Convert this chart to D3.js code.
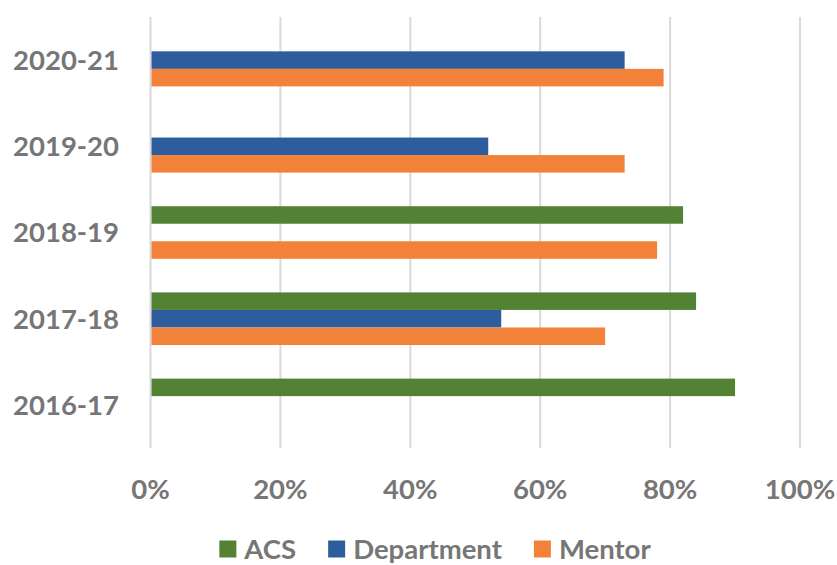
<!DOCTYPE html>
<html>
<head>
<meta charset="utf-8">
<script src="https://cdn.jsdelivr.net/npm/d3@7"></script>
<style>
  body { margin: 0; background: #fff; }
  text { font-family: Lato, "Open Sans", sans-serif; font-weight: bold; fill: #767676; }
</style>
</head>
<body>
<div id="chart"></div>
<script>
// Data (fractions of 100%)
const years = ["2020-21", "2019-20", "2018-19", "2017-18", "2016-17"];
const series = ["ACS", "Department", "Mentor"];
const acs        = [null, null, 0.82, 0.84, 0.90];
const department = [0.73, 0.52, null, 0.54, null];
const mentor     = [0.79, 0.73, 0.78, 0.70, null];
const ticks = [0, 0.2, 0.4, 0.6, 0.8, 1.0];
const colors = { ACS: "#548235", Department: "#2E5D9E", Mentor: "#F2823A" };

const valuesBySeries = { ACS: acs, Department: department, Mentor: mentor };

const width = 837;
const height = 565;
const margin = { top: 17, right: 37, bottom: 117, left: 150.5 };

const svg = d3.select("#chart")
    .append("svg")
    .attr("width", width)
    .attr("height", height);

// Scales
const xScale = d3.scaleLinear()
    .domain([0, 1])
    .range([margin.left, width - margin.right]);

const yScale = d3.scaleBand()
    .domain(years)
    .range([margin.top, height - margin.bottom])
    .paddingInner(0.39)
    .paddingOuter(0.195);

const ySub = d3.scaleBand()
    .domain(series)
    .range([0, yScale.bandwidth()]);

// Gridlines
svg.append("g")
    .selectAll("line")
    .data(ticks)
    .join("line")
    .attr("x1", d => xScale(d))
    .attr("x2", d => xScale(d))
    .attr("y1", margin.top)
    .attr("y2", height - margin.bottom)
    .attr("stroke", "#D9D9D9")
    .attr("stroke-width", 2);

// Bars
const rows = [];
years.forEach((year, i) => {
    series.forEach(s => {
        const v = valuesBySeries[s][i];
        if (v != null) rows.push({ year, s, v });
    });
});

svg.append("g")
    .selectAll("rect")
    .data(rows)
    .join("rect")
    .attr("x", xScale(0) + 1)
    .attr("y", d => yScale(d.year) + ySub(d.s))
    .attr("width", d => xScale(d.v) - xScale(0) - 1)
    .attr("height", ySub.bandwidth())
    .attr("fill", d => colors[d.s]);

// Category labels
svg.append("g")
    .selectAll("text")
    .data(years)
    .join("text")
    .attr("x", 119)
    .attr("y", d => yScale(d) + yScale.bandwidth() / 2)
    .attr("dy", "0.36em")
    .attr("text-anchor", "end")
    .attr("font-size", "27.5px")
    .text(d => d);

// X tick labels
svg.append("g")
    .selectAll("text")
    .data(ticks)
    .join("text")
    .attr("x", d => xScale(d))
    .attr("y", 489)
    .attr("dy", "0.36em")
    .attr("text-anchor", "middle")
    .attr("font-size", "27.5px")
    .text(d => d3.format(".0%")(d));

// Legend
const legend = svg.append("g");
const sq = 17, gapText = 8, gapItem = 32;
let xPos = 0;
series.forEach(s => {
    const g = legend.append("g").attr("transform", `translate(${xPos},0)`);
    g.append("rect")
        .attr("x", 0)
        .attr("y", -sq / 2)
        .attr("width", sq)
        .attr("height", sq)
        .attr("fill", colors[s]);
    const t = g.append("text")
        .attr("x", sq + gapText)
        .attr("dy", "0.36em")
        .attr("font-size", "27.5px")
        .text(s);
    xPos += sq + gapText + t.node().getComputedTextLength() + gapItem;
});
const legendWidth = xPos - gapItem;
legend.attr("transform", `translate(${435 - legendWidth / 2}, 549)`);
</script>
</body>
</html>
